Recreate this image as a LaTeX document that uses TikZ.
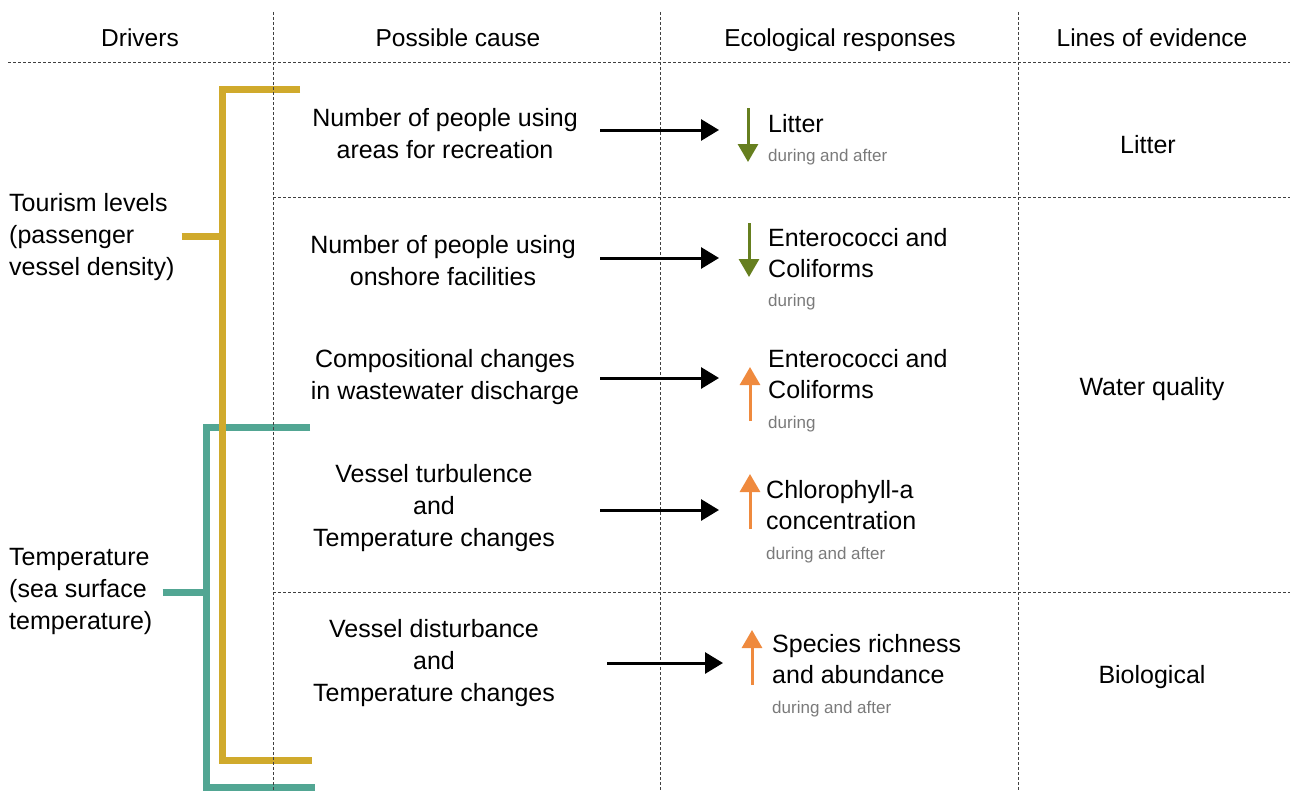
\documentclass[tikz,border=0pt]{standalone}
\usepackage{fontspec}
\setmainfont{Liberation Sans}
\usetikzlibrary{arrows.meta}
\definecolor{ggold}{HTML}{D0AA2C}
\definecolor{tteal}{HTML}{52A693}
\definecolor{ggreen}{HTML}{667F1F}
\definecolor{oorange}{HTML}{EF8A3E}
\definecolor{ggray}{HTML}{7A7A7A}

\begin{document}
\begin{tikzpicture}[x=1pt,y=-1pt,
  grid/.style={densely dashed, line width=0.8pt, black!75},
  head/.style={font=\fontsize{24.5}{28}\selectfont, anchor=base},
  txt/.style={font=\fontsize{25}{32}\selectfont, align=center, inner sep=0pt},
  resp/.style={font=\fontsize{25}{31}\selectfont, align=left, anchor=west, inner sep=0pt},
  note/.style={font=\fontsize{17}{20}\selectfont, ggray, anchor=west, inner sep=0pt},
  bracket/.style={line width=7pt},
  cause/.style={-{Triangle[length=18pt,width=21pt]}, line width=3pt},
  down/.style={-{Triangle[length=18pt,width=20pt]}, line width=3pt, ggreen},
  up/.style={-{Triangle[length=18pt,width=20pt]}, line width=3pt, oorange}]
\useasboundingbox (0,0) rectangle (1290,792);

% headers
\node[head] (hdriv) at (140,47) {Drivers};
\node[head] (hcause) at (458,47) {Possible cause};
\node[head] (hresp) at (840,47) {Ecological responses};
\node[head] (hlines) at (1152,47) {Lines of evidence};

% drivers
\node[txt, align=left, anchor=west] (tour) at (9,237) {Tourism levels\\(passenger\\vessel density)};
\node[txt, align=left, anchor=west] (temp) at (9,591) {Temperature\\(sea surface\\temperature)};

% brackets
\coordinate (tt1) at (310,427);
\coordinate (tt2) at (315,787);
\coordinate (tmid) at (206,592);
\draw[tteal, bracket] (tt1) -| (206,787) -- (tt2);
\draw[tteal, bracket] (temp.east) ++(10,1) -- (tmid);
\coordinate (gt1) at (300,89);
\coordinate (gt2) at (312,760);
\coordinate (gmid) at (222,236);
\draw[ggold, bracket] (gt1) -| (222,760) -- (gt2);
\draw[ggold, bracket] (tour.east) ++(7,-1) -- (gmid);

% grid
\draw[grid] (8,62) -- (1290,62);
\foreach \x in {273,660,1018}
\draw[grid] (\x,12) -- (\x,792);
\foreach \y in {197,592}
\draw[grid] (273,\y) -- (1290,\y);

% possible causes
\node[txt] (c1) at (445,134) {Number of people using\\areas for recreation};
\node[txt] (c2) at (443,261) {Number of people using\\onshore facilities};
\node[txt] (c3) at (445,377) {Compositional changes\\in wastewater discharge};
\node[txt] (c4) at (434,508) {Vessel turbulence\\and\\Temperature changes};
\node[txt] (c5) at (434,663) {Vessel disturbance\\and\\Temperature changes};

% ecological responses
\node[resp] (r1) at (768,124) {Litter};
\node[note] (n1) at (768,157) {during and after};
\node[resp] (r2) at (768,253) {Enterococci and\\Coliforms};
\node[note] (n2) at (768,302) {during};
\node[resp] (r3) at (768,374) {Enterococci and\\Coliforms};
\node[note] (n3) at (768,424) {during};
\node[resp] (r4) at (766,505) {Chlorophyll-a\\concentration};
\node[note] (n4) at (766,555) {during and after};
\node[resp] (r5) at (772,659) {Species richness\\and abundance};
\node[note] (n5) at (772,709) {during and after};

% arrows
\foreach \i/\y in {1/130,2/258,3/378,4/510}
{
\coordinate (a\i) at (600,\y);
\coordinate (b\i) at (719,\y);
\draw[cause] (a\i) -- (b\i);
}
\coordinate (a5) at (607,663);
\coordinate (b5) at (723,663);
\draw[cause] (a5) -- (b5);

\draw[down] (748,108) -- (748,162);
\draw[down] (749,223) -- (749,277);
\draw[up] (750,421) -- (750,367);
\draw[up] (750,529) -- (750,474);
\draw[up] (752,685) -- (752,630);

% lines of evidence
\node[txt] (e1) at (1148,145) {Litter};
\node[txt] (e2) at (1152,389) {Water quality};
\node[txt] (e3) at (1152,677) {Biological};
\end{tikzpicture}
\end{document}
